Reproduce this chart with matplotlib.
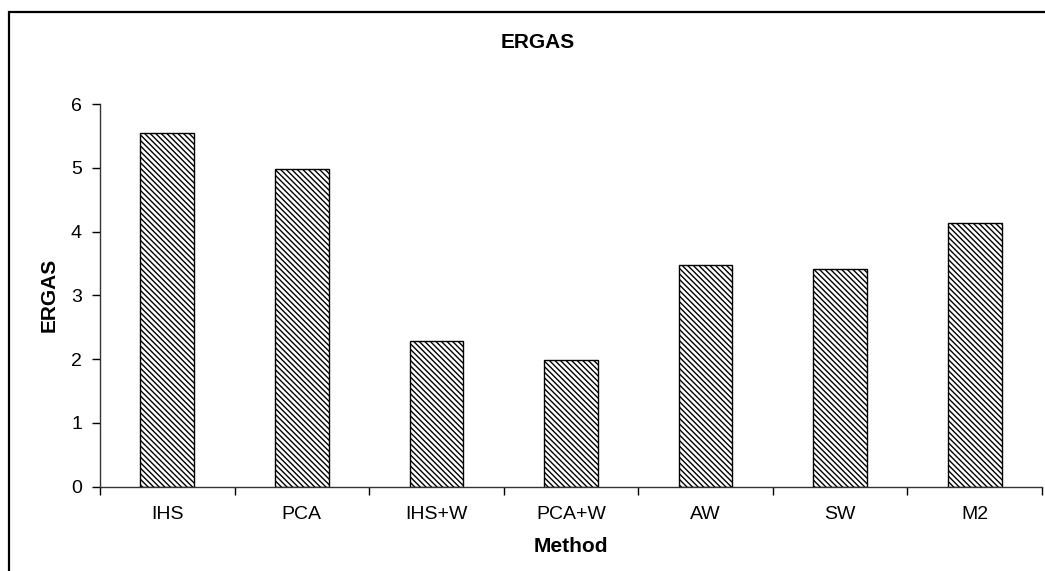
import matplotlib
matplotlib.use("Agg")
import matplotlib.pyplot as plt
from matplotlib.patches import Rectangle
import numpy as np

methods = ["IHS", "PCA", "IHS+W", "PCA+W", "AW", "SW", "M2"]
ergas = [5.55, 4.98, 2.28, 1.99, 3.47, 3.41, 4.13]
y_ticks = [0, 1, 2, 3, 4, 5, 6]

plt.rcParams["font.family"] = ["Liberation Sans", "DejaVu Sans"]
plt.rcParams["hatch.linewidth"] = 1.0
plt.rcParams["hatch.color"] = "#404040"

fig = plt.figure(figsize=(10.45, 5.71), dpi=100)
fig.patch.set_facecolor("white")

# outer frame around the chart area
fig.patches.append(Rectangle((9 / 1045, -0.05), 1.1, (571 - 12) / 571 + 0.05,
                             transform=fig.transFigure, fill=False,
                             edgecolor="black", linewidth=1.6))

ax = fig.add_axes([100 / 1045, (571 - 486.5) / 571, 942 / 1045, (486.5 - 104) / 571])

x = np.arange(len(methods))
ax.bar(x, ergas, width=0.4, color="white", edgecolor="black", linewidth=1.0,
       hatch="\\" * 6)

ax.set_xlim(-0.5, len(methods) - 0.5)
ax.set_ylim(0, 6)
ax.set_yticks(y_ticks)
ax.set_yticklabels([str(t) for t in y_ticks], fontsize=14)
ax.set_xticks(x)
ax.set_xticklabels(methods, fontsize=14)
ax.set_xticks(np.arange(len(methods) + 1) - 0.5, minor=True)
ax.tick_params(axis="x", which="major", length=0, pad=14)
ax.tick_params(axis="x", which="minor", length=6, width=1, direction="out")
ax.tick_params(axis="y", length=6, width=1, direction="out", pad=7)

for side in ("top", "right"):
    ax.spines[side].set_visible(False)
for side in ("left", "bottom"):
    ax.spines[side].set_linewidth(1.0)
    ax.spines[side].set_color("#333333")

ax.set_xlabel("Method", fontsize=15, fontweight="bold", labelpad=10)
ax.set_ylabel("ERGAS", fontsize=15, fontweight="bold", labelpad=9)
fig.text(538 / 1045, 1 - 42 / 571, "ERGAS", ha="center", va="center",
         fontsize=15, fontweight="bold")

fig.savefig("out.png", dpi=100, facecolor="white")
